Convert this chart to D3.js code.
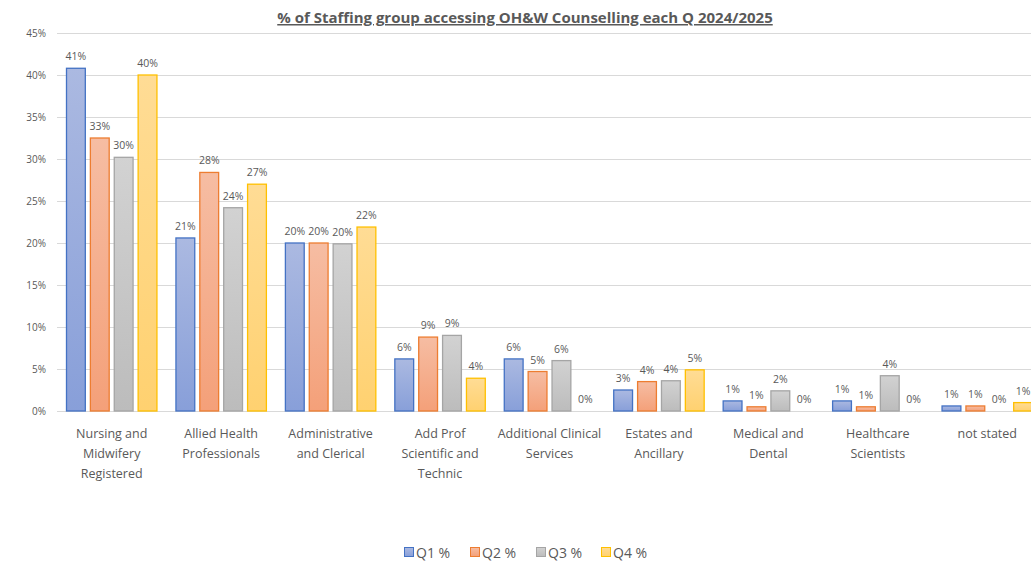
<!DOCTYPE html>
<html>
<head>
<meta charset="utf-8">
<script src="https://cdn.jsdelivr.net/npm/d3@7"></script>
<style>
  body { margin: 0; background: #fff; }
  svg { display: block; font-family: "Open Sans", "Noto Sans", sans-serif; }
</style>
</head>
<body>
<div id="chart"></div>
<script>
// chart values (percent)
var categories = [
	["Nursing and", "Midwifery", "Registered"],
	["Allied Health", "Professionals"],
	["Administrative", "and Clerical"],
	["Add Prof", "Scientific and", "Technic"],
	["Additional Clinical", "Services"],
	["Estates and", "Ancillary"],
	["Medical and", "Dental"],
	["Healthcare", "Scientists"],
	["not stated"]
];
var seriesNames = ["Q1 %", "Q2 %", "Q3 %", "Q4 %"];
var q1 = [40.8, 20.6, 20.0, 6.2, 6.2, 2.5, 1.2, 1.2, 0.6];
var q2 = [32.5, 28.4, 20.0, 8.8, 4.7, 3.5, 0.5, 0.5, 0.6];
var q3 = [30.2, 24.2, 19.9, 9.0, 6.0, 3.6, 2.4, 4.2, 0.0];
var q4 = [40.0, 27.0, 21.9, 3.9, 0.0, 4.9, 0.0, 0.0, 1.0];
var yTicks = [0, 5, 10, 15, 20, 25, 30, 35, 40, 45];

var series = [q1, q2, q3, q4];
var colours = [
	{top: "#abb9e1", bottom: "#889fd9", stroke: "#4472c4"},
	{top: "#f6bda3", bottom: "#f4a079", stroke: "#ed7d31"},
	{top: "#d2d2d2", bottom: "#bcbcbc", stroke: "#a5a5a5"},
	{top: "#ffdc95", bottom: "#ffd170", stroke: "#ffc000"}
];

var width = 1031,
	height = 571;

var svg = d3.select("#chart").append("svg")
	.attr("width", width)
	.attr("height", height);

var defs = svg.append("defs");
colours.forEach(function(c, i){
	var g = defs.append("linearGradient")
		.attr("id", "grad" + i)
		.attr("x1", 0).attr("y1", 0).attr("x2", 0).attr("y2", 1);
	g.append("stop").attr("offset", "0%").attr("stop-color", c.top);
	g.append("stop").attr("offset", "100%").attr("stop-color", c.bottom);
});

var x = d3.scaleBand()
	.domain(d3.range(categories.length))
	.range([57, 1042])
	.paddingInner(0)
	.paddingOuter(0);

var xInner = d3.scaleBand()
	.domain(d3.range(series.length))
	.range([9, x.bandwidth() - 9])
	.paddingInner(0.17);

var y = d3.scaleLinear()
	.domain([0, 45])
	.range([411, 33]);

// title
svg.append("text")
	.attr("x", 525)
	.attr("y", 23)
	.attr("text-anchor", "middle")
	.attr("font-size", 15)
	.attr("font-weight", "bold")
	.attr("fill", "#595959")
	.attr("text-decoration", "underline")
	.text("% of Staffing group accessing OH&W Counselling each Q 2024/2025");

// gridlines and y tick labels
var grid = svg.append("g");
grid.selectAll("line")
	.data(yTicks)
	.enter()
	.append("line")
	.attr("x1", 57)
	.attr("x2", width)
	.attr("y1", d => Math.round(y(d)) + 0.5)
	.attr("y2", d => Math.round(y(d)) + 0.5)
	.attr("stroke", "#d9d9d9")
	.attr("stroke-width", 1.2);

grid.selectAll("text")
	.data(yTicks)
	.enter()
	.append("text")
	.attr("x", 46)
	.attr("y", d => y(d) + 3.5)
	.attr("text-anchor", "end")
	.attr("font-size", 10)
	.attr("fill", "#595959")
	.text(d => d + "%");

// bars
var groups = svg.append("g").selectAll("g")
	.data(categories)
	.enter()
	.append("g")
	.attr("transform", (d, i) => "translate(" + x(i) + ",0)");

groups.each(function(cat, ci){
	var sel = d3.select(this);
	series.forEach(function(vals, si){
		var v = vals[ci];
		var bx = xInner(si);
		if (v > 0) {
			sel.append("rect")
				.attr("x", bx + 0.5)
				.attr("y", y(v))
				.attr("width", xInner.bandwidth() - 1)
				.attr("height", y(0) - y(v))
				.attr("fill", "url(#grad" + si + ")")
				.attr("stroke", colours[si].stroke)
				.attr("stroke-width", 1.3);
		}
		sel.append("text")
			.attr("x", bx + xInner.bandwidth() / 2)
			.attr("y", y(v) - 8)
			.attr("text-anchor", "middle")
			.attr("font-size", 10.5)
			.attr("fill", "#595959")
			.text(Math.round(v) + "%");
	});

	// category label
	var lbl = sel.append("text")
		.attr("text-anchor", "middle")
		.attr("font-size", 12.5)
		.attr("fill", "#595959");
	cat.forEach(function(line, li){
		lbl.append("tspan")
			.attr("x", x.bandwidth() / 2)
			.attr("y", 438 + li * 20)
			.text(line);
	});
});

// legend
var legend = svg.append("g");
var legendX = [404, 470, 536, 601];
seriesNames.forEach(function(name, i){
	legend.append("rect")
		.attr("x", legendX[i] + 0.5)
		.attr("y", 547.5)
		.attr("width", 9)
		.attr("height", 9)
		.attr("fill", "url(#grad" + i + ")")
		.attr("stroke", colours[i].stroke);
	legend.append("text")
		.attr("x", legendX[i] + 12)
		.attr("y", 558)
		.attr("font-size", 14)
		.attr("fill", "#595959")
		.text(name);
});
</script>
</body>
</html>
